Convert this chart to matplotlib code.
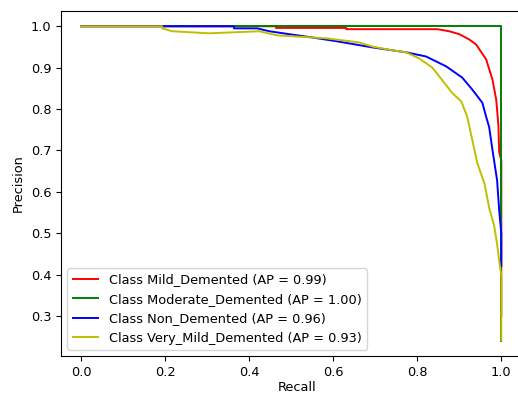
import numpy as np
import matplotlib
matplotlib.use("Agg")
import matplotlib.pyplot as plt

# ----------------------
# Données (rappel, précision)
# ----------------------
classes = ["Mild_Demented", "Moderate_Demented", "Non_Demented", "Very_Mild_Demented"]
ap_scores = [0.99, 1.00, 0.96, 0.93]
colors = ["r", "g", "b", "y"]

recall_mild = [0.0, 0.464, 0.464, 0.631, 0.631, 0.848, 0.876, 0.900, 0.924, 0.940,
               0.964, 0.979, 0.988, 0.993, 0.995, 1.0, 1.0]
precision_mild = [1.0, 1.0, 0.996, 0.996, 0.993, 0.993, 0.988, 0.981, 0.968, 0.956,
                  0.920, 0.871, 0.822, 0.762, 0.696, 0.676, 0.30]

recall_moderate = [0.0, 1.0, 1.0]
precision_moderate = [1.0, 1.0, 0.24]

recall_non = [0.0, 0.364, 0.364, 0.419, 0.448, 0.495, 0.550, 0.607, 0.693, 0.774,
              0.821, 0.869, 0.907, 0.931, 0.955, 0.964, 0.971, 0.979, 0.990, 0.995,
              1.0, 1.0]
precision_non = [1.0, 1.0, 0.995, 0.995, 0.988, 0.981, 0.973, 0.964, 0.949, 0.937,
                 0.927, 0.903, 0.876, 0.847, 0.815, 0.781, 0.757, 0.701, 0.628, 0.555,
                 0.499, 0.421]

recall_vmild = [0.0, 0.193, 0.193, 0.217, 0.305, 0.424, 0.467, 0.583, 0.662, 0.693,
                0.740, 0.774, 0.805, 0.836, 0.860, 0.883, 0.905, 0.919, 0.931, 0.943,
                0.960, 0.971, 0.983, 0.990, 0.995, 1.0, 1.0]
precision_vmild = [1.0, 1.0, 0.995, 0.988, 0.983, 0.988, 0.978, 0.971, 0.961, 0.951,
                   0.942, 0.937, 0.922, 0.900, 0.869, 0.839, 0.818, 0.781, 0.725, 0.669,
                   0.620, 0.562, 0.518, 0.474, 0.433, 0.397, 0.241]

recalls = [recall_mild, recall_moderate, recall_non, recall_vmild]
precisions = [precision_mild, precision_moderate, precision_non, precision_vmild]

# ----------------------
# Figure (le cadre droit sort de l'image, comme sur l'original)
# ----------------------
plt.rcParams["font.size"] = 9.3
fig = plt.figure(figsize=(5.18, 3.94), dpi=100)
ax = fig.add_axes([0.1178, 0.0952, 0.91, 0.878])

for i in range(len(classes)):
    ax.plot(recalls[i], precisions[i], color=colors[i], lw=1.4,
            label=f"Class {classes[i]} (AP = {ap_scores[i]:.2f})")

ax.set_xlim(-0.0476, 1.074)
ax.set_xticks([0.0, 0.2, 0.4, 0.6, 0.8, 1.0])
ax.set_xlabel("Recall", labelpad=1)
ax.set_ylabel("Precision")
ax.legend(loc="lower left")

fig.savefig("out.png", dpi=100)
